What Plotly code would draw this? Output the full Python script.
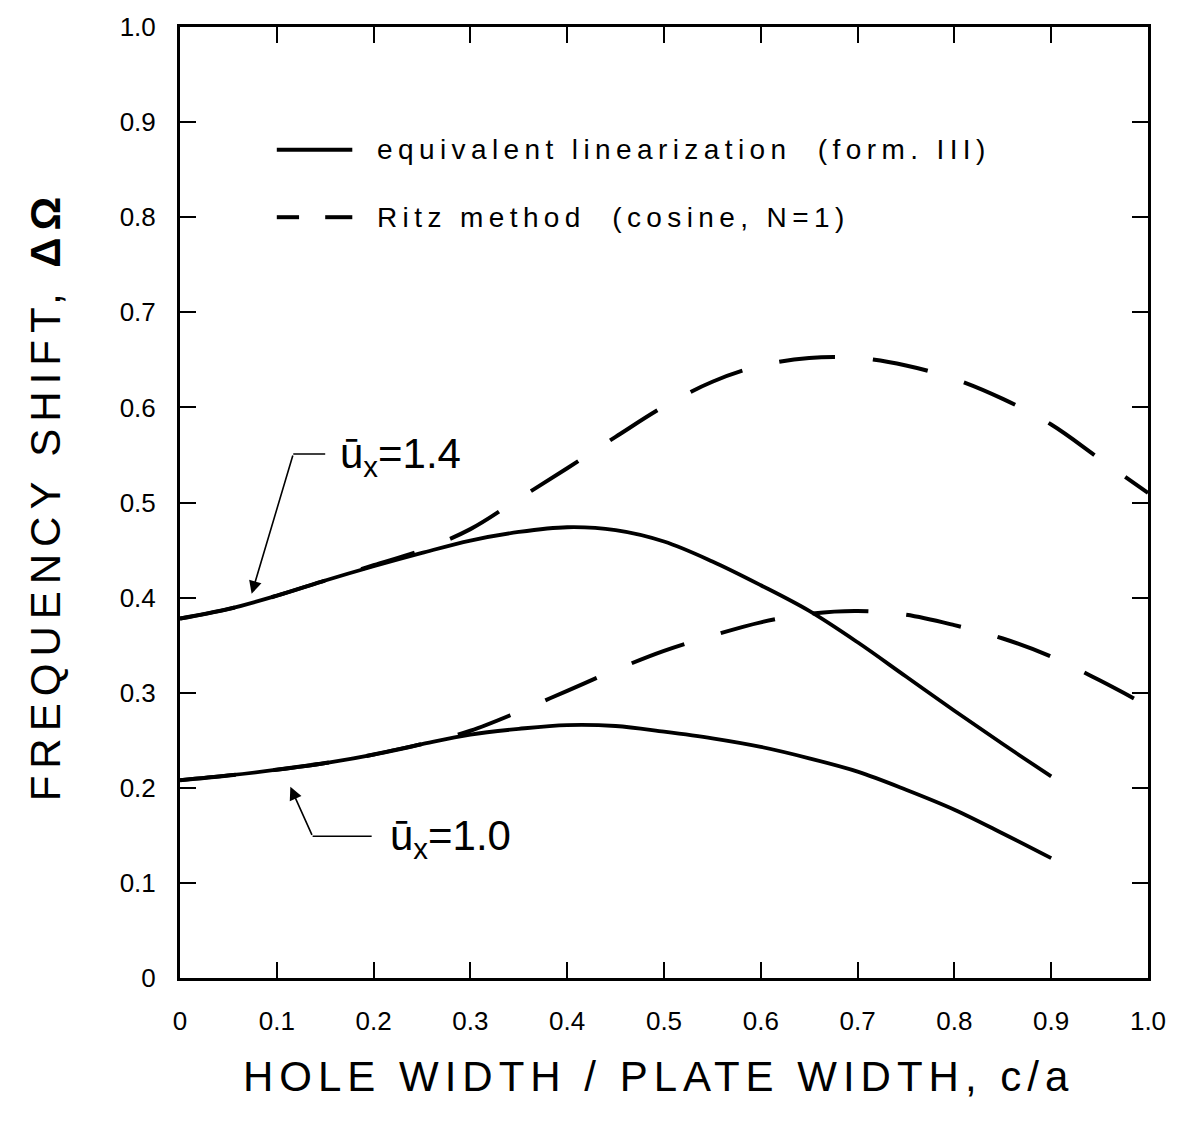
import plotly.graph_objects as go

# ---- data ----
x_solid = [0, 0.05, 0.1, 0.15, 0.2, 0.25, 0.3, 0.35, 0.4, 0.45, 0.5, 0.55, 0.6, 0.65, 0.7, 0.75, 0.8, 0.85, 0.9]
eqlin_u14 = [0.378, 0.388, 0.402, 0.418, 0.433, 0.447, 0.460, 0.469, 0.474, 0.471, 0.459, 0.438, 0.413, 0.386, 0.353, 0.317, 0.281, 0.246, 0.212]
eqlin_u10 = [0.208, 0.213, 0.219, 0.226, 0.235, 0.246, 0.256, 0.262, 0.266, 0.265, 0.259, 0.252, 0.243, 0.231, 0.217, 0.198, 0.177, 0.152, 0.126]

x_dashed = [0, 0.05, 0.1, 0.15, 0.2, 0.25, 0.3, 0.35, 0.4, 0.45, 0.5, 0.55, 0.6, 0.65, 0.7, 0.75, 0.8, 0.85, 0.9, 0.95, 1.0]
ritz_u14 = [0.378, 0.388, 0.402, 0.418, 0.434, 0.450, 0.472, 0.504, 0.536, 0.569, 0.601, 0.627, 0.644, 0.652, 0.652, 0.644, 0.630, 0.609, 0.582, 0.546, 0.510]
ritz_u10 = [0.208, 0.213, 0.219, 0.226, 0.235, 0.246, 0.260, 0.280, 0.302, 0.324, 0.344, 0.360, 0.374, 0.383, 0.386, 0.382, 0.371, 0.357, 0.338, 0.313, 0.286]

tick_vals = [0, 0.1, 0.2, 0.3, 0.4, 0.5, 0.6, 0.7, 0.8, 0.9, 1.0]
tick_text = ["0", "0.1", "0.2", "0.3", "0.4", "0.5", "0.6", "0.7", "0.8", "0.9", "1.0"]

legend_labels = ["equivalent linearization  (form. III)", "Ritz method  (cosine, N=1)"]
FONT = "Liberation Sans"
INK = "black"

fig = go.Figure()
for xs, ys, name, dash, w in [
    (x_solid, eqlin_u14, legend_labels[0], "solid", 3.8),
    (x_solid, eqlin_u10, legend_labels[0], "solid", 3.8),
    (x_dashed, ritz_u14, legend_labels[1], "56px,38px", 4),
    (x_dashed, ritz_u10, legend_labels[1], "56px,38px", 4),
]:
    fig.add_trace(go.Scatter(x=xs, y=ys, mode="lines", name=name, showlegend=False,
                             line=dict(color=INK, width=w, dash=dash, shape="spline", smoothing=1.0)))

def spaced(t, ls):
    return f'<span style="letter-spacing:{ls}px">{t}</span>'

# manual legend
fig.add_shape(type="line", x0=0.10, x1=0.178, y0=0.871, y1=0.871, line=dict(color=INK, width=4))
fig.add_shape(type="line", x0=0.10, x1=0.123, y0=0.800, y1=0.800, line=dict(color=INK, width=4))
fig.add_shape(type="line", x0=0.150, x1=0.178, y0=0.800, y1=0.800, line=dict(color=INK, width=4))
fig.add_annotation(x=0.2015, y=0.871, xanchor="left", yanchor="middle", showarrow=False,
                   text=spaced(legend_labels[0], 5.4), font=dict(family=FONT, size=28, color=INK))
fig.add_annotation(x=0.2015, y=0.800, xanchor="left", yanchor="middle", showarrow=False,
                   text=spaced(legend_labels[1], 5.4), font=dict(family=FONT, size=28, color=INK))

# curve labels with arrows
fig.add_shape(type="line", x0=0.117, x1=0.150, y0=0.551, y1=0.551, line=dict(color=INK, width=1.6))
fig.add_annotation(x=0.074, y=0.404, ax=0.117, ay=0.551, axref="x", ayref="y", text="",
                   showarrow=True, arrowhead=2, arrowsize=1.6, arrowwidth=1.6, arrowcolor=INK)
fig.add_annotation(x=0.163, y=0.548, xanchor="left", yanchor="middle", showarrow=False,
                   text="ū<sub>x</sub>=1.4", font=dict(family=FONT, size=42, color=INK))

fig.add_shape(type="line", x0=0.137, x1=0.198, y0=0.149, y1=0.149, line=dict(color=INK, width=1.6))
fig.add_annotation(x=0.114, y=0.201, ax=0.137, ay=0.149, axref="x", ayref="y", text="",
                   showarrow=True, arrowhead=2, arrowsize=1.6, arrowwidth=1.6, arrowcolor=INK)
fig.add_annotation(x=0.215, y=0.147, xanchor="left", yanchor="middle", showarrow=False,
                   text="ū<sub>x</sub>=1.0", font=dict(family=FONT, size=42, color=INK))

# axis titles
fig.add_annotation(xref="paper", yref="paper", x=-0.139, y=0.507, textangle=-90, showarrow=False,
                   xanchor="center", yanchor="middle",
                   text=spaced("FREQUENCY SHIFT, <b>ΔΩ</b>", 7), font=dict(family=FONT, size=42, color=INK))
fig.add_annotation(xref="paper", yref="paper", x=0.494, y=-0.1035, showarrow=False,
                   xanchor="center", yanchor="middle",
                   text=spaced("HOLE WIDTH / PLATE WIDTH, c/a", 6), font=dict(family=FONT, size=42, color=INK))

axis_common = dict(range=[0, 1], tickvals=tick_vals, ticktext=tick_text, ticks="inside",
                   ticklen=16, tickwidth=2, tickcolor=INK, showline=True, linewidth=3, linecolor=INK,
                   mirror="ticks", showgrid=False, zeroline=False,
                   tickfont=dict(family=FONT, size=26, color=INK))
fig.update_xaxes(**axis_common, ticklabelstandoff=18)
fig.update_yaxes(**axis_common, ticklabelstandoff=16)

fig.update_layout(width=1180, height=1129, margin=dict(l=180, r=32, t=18, b=151),
                  paper_bgcolor="white", plot_bgcolor="white", showlegend=False)

fig.write_html("out.html")
